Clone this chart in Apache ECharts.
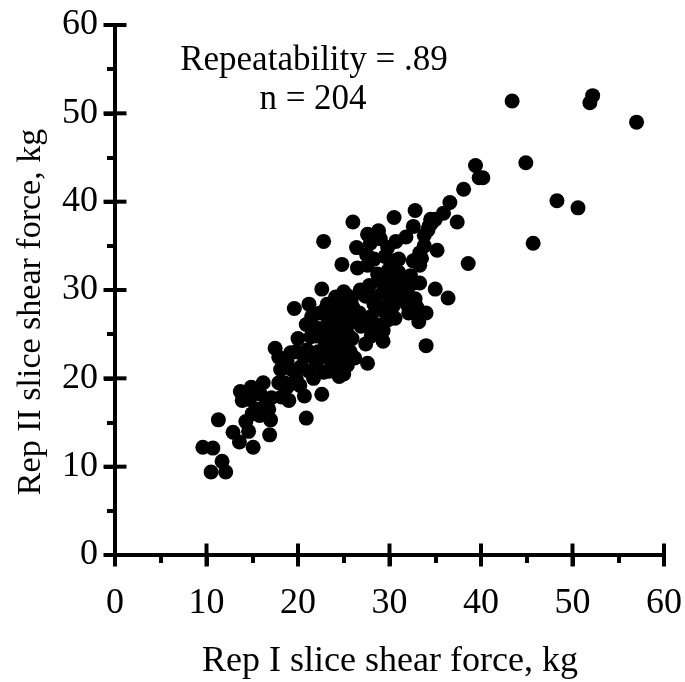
<!DOCTYPE html>
<html><head><meta charset="utf-8">
<script src="https://cdn.jsdelivr.net/npm/echarts@6/dist/echarts.min.js"></script>
<style>html,body{margin:0;padding:0;background:#fff}#c{width:685px;height:682px}</style>
</head><body><div id="c"></div>
<script>
// Rep I (x) and Rep II (y) slice shear force, kg
const repI = [
 9.6,10.7,10.5,11.7,12.1,11.3,12.9,13.6,15.1,13.7,13.9,14.9,14.3,14.6,15.0,15.5,15.9,16.2,16.9,17.0,
 16.8,17.1,17.5,17.9,18.1,17.9,18.8,19.0,19.6,19.2,19.8,20.2,20.7,20.9,20.7,20.9,21.2,21.4,21.7,22.0,
 22.8,22.6,22.6,22.8,22.4,23.2,23.1,23.3,23.6,23.8,24.3,24.0,24.5,24.8,25.0,25.0,24.8,25.5,25.7,25.5,
 25.5,26.0,26.4,26.5,26.7,26.9,27.4,27.6,27.6,27.9,27.6,27.4,27.9,28.3,28.8,29.0,28.9,29.3,29.3,29.3,
 29.8,29.5,29.9,30.5,30.7,30.5,31.0,30.2,31.2,31.9,32.6,32.8,32.6,33.3,33.3,33.3,32.6,32.1,33.2,34.0,
 34.0,33.8,34.5,34.3,35.2,35.0,36.4,35.9,36.6,37.4,38.6,38.1,39.4,39.8,40.2,43.4,52.2,51.9,57.0,44.9,
 48.3,50.6,45.7
];
const repII = [
 12.2,12.1,9.4,10.6,9.4,15.3,13.9,12.8,12.2,18.5,17.5,19.0,15.1,14.0,16.0,16.5,18.2,19.5,13.6,15.3,
 16.5,17.8,23.4,22.4,21.0,19.5,19.0,17.5,27.9,22.9,20.0,19.2,18.0,15.5,22.4,26.1,28.4,24.7,20.0,21.7,
 35.5,30.1,18.2,20.7,27.4,28.4,25.4,23.4,21.9,24.4,28.8,26.9,25.9,23.4,21.9,20.5,32.9,29.3,27.4,24.9,
 22.9,37.7,34.8,32.5,27.4,25.9,23.9,21.7,36.3,35.3,32.8,29.3,25.9,28.4,36.7,35.8,31.3,29.8,24.2,25.4,
 26.6,33.8,32.3,38.2,35.5,33.3,32.0,30.3,29.6,28.4,37.2,39.0,33.3,34.2,32.8,30.8,30.8,27.4,26.4,27.4,
 23.7,36.2,38.0,37.2,34.5,30.1,29.1,38.7,39.9,37.7,33.0,41.4,44.1,42.7,42.7,51.4,52.0,51.2,49.0,44.4,
 40.1,39.3,35.3
];
// dense core of the cloud (overlapping dots)
const coreI = [
 23.0,23.5,23.8,24.2,24.4,24.6,24.8,24.9,25.1,25.3,25.4,25.6,25.8,24.0,23.4,22.2,22.5,23.0,24.1,25.0,
 25.9,26.2,24.5,23.7,22.9,24.7,25.2,23.3,21.8,22.0,21.5,26.0,24.3,25.7,
 27.2,27.8,28.0,28.5,28.7,28.8,29.0,29.2,29.5,29.6,30.0,30.2,30.4,30.8,31.0,31.3,31.5,32.0,32.3,32.8,
 33.0,33.5,33.8,34.2,34.6,35.0,29.8,28.3,27.5,26.8,28.0,27.0,30.6,31.8,
 18.5,19.3,19.8,20.3,21.0,21.2,18.2,16.5,15.8,14.7,20.0,21.8,18.8
];
const coreII = [
 22.5,25.0,27.5,22.8,21.0,24.2,26.5,28.2,25.4,23.8,21.5,26.2,28.8,23.5,20.8,23.0,25.6,27.8,29.2,29.8,
 24.5,22.3,20.2,21.8,24.3,27.3,27.0,26.3,22.6,24.8,27.0,28.0,25.4,23.0,
 29.5,30.5,27.0,29.2,31.8,26.0,28.0,30.8,27.5,31.5,29.0,31.8,28.2,30.2,33.5,30.8,29.3,30.2,31.6,29.0,
 28.0,33.6,35.0,36.8,37.6,38.0,34.8,33.5,34.0,30.0,24.8,26.8,26.8,36.0,
 19.5,21.0,23.0,21.3,23.2,20.8,17.9,17.0,15.8,17.6,24.5,25.8,22.0
];
const axisMin = 0, axisMax = 60, axisStep = 10;
const majorTicks = [0, 10, 20, 30, 40, 50, 60];
const xTitle = 'Rep I slice shear force, kg';
const yTitle = 'Rep II slice shear force, kg';
const note1 = 'Repeatability = .89';
const note2 = 'n = 204';

const FONT = "'Liberation Serif', 'Times New Roman', serif";
const pts = repI.map((v, i) => [v, repII[i]]).concat(coreI.map((v, i) => [v, coreII[i]]));

function mkAxis(kind) {
  return {
    type: 'value', min: axisMin, max: axisMax, interval: axisStep,
    position: kind === 'x' ? 'bottom' : 'left',
    splitLine: { show: false },
    axisLine: { show: true, onZero: false, lineStyle: { color: '#000', width: 4 } },
    axisTick: { show: true, inside: false, length: 11, lineStyle: { color: '#000', width: 4 } },
    minorTick: { show: true, splitNumber: 2, length: 8, lineStyle: { color: '#000', width: 4 } },
    axisLabel: { show: true, color: '#000', fontFamily: FONT, fontSize: 36, margin: kind === 'x' ? 31 : 17 }
  };
}

// major ticks cross the axis line in the reference: drawn as thin rect
// symbols centred on the axis, placed through the chart's own scales
const xTickMarks = majorTicks.map(v => [v, axisMin]);
const yTickMarks = majorTicks.map(v => [axisMin, v]);

const chart = echarts.init(document.getElementById('c'), null, { renderer: 'canvas' });
chart.setOption({
  animation: false,
  backgroundColor: '#fff',
  grid: { left: 115, right: 20, top: 25, bottom: 127, containLabel: false },
  xAxis: mkAxis('x'),
  yAxis: mkAxis('y'),
  series: [{
    type: 'scatter', symbol: 'circle', symbolSize: 15,
    itemStyle: { color: '#000', opacity: 1 },
    data: pts, silent: true
  }, {
    type: 'scatter', symbol: 'rect', symbolSize: [4, 23], clip: false,
    itemStyle: { color: '#000', opacity: 1 }, data: xTickMarks, silent: true, z: 5
  }, {
    type: 'scatter', symbol: 'rect', symbolSize: [23, 4], clip: false,
    itemStyle: { color: '#000', opacity: 1 }, data: yTickMarks, silent: true, z: 5
  }],
  graphic: [
    { type: 'text', x: 390, y: 662, style: { text: xTitle, fontFamily: FONT, fontSize: 36, fill: '#000', align: 'center', verticalAlign: 'middle' } },
    { type: 'text', x: 31, y: 312, rotation: Math.PI / 2, style: { text: yTitle, fontFamily: FONT, fontSize: 34, fill: '#000', align: 'center', verticalAlign: 'middle' } },
    { type: 'text', x: 314, y: 61, style: { text: note1, fontFamily: FONT, fontSize: 35, fill: '#000', align: 'center', verticalAlign: 'middle' } },
    { type: 'text', x: 313, y: 100, style: { text: note2, fontFamily: FONT, fontSize: 35, fill: '#000', align: 'center', verticalAlign: 'middle' } }
  ]
});
</script>
</body></html>
